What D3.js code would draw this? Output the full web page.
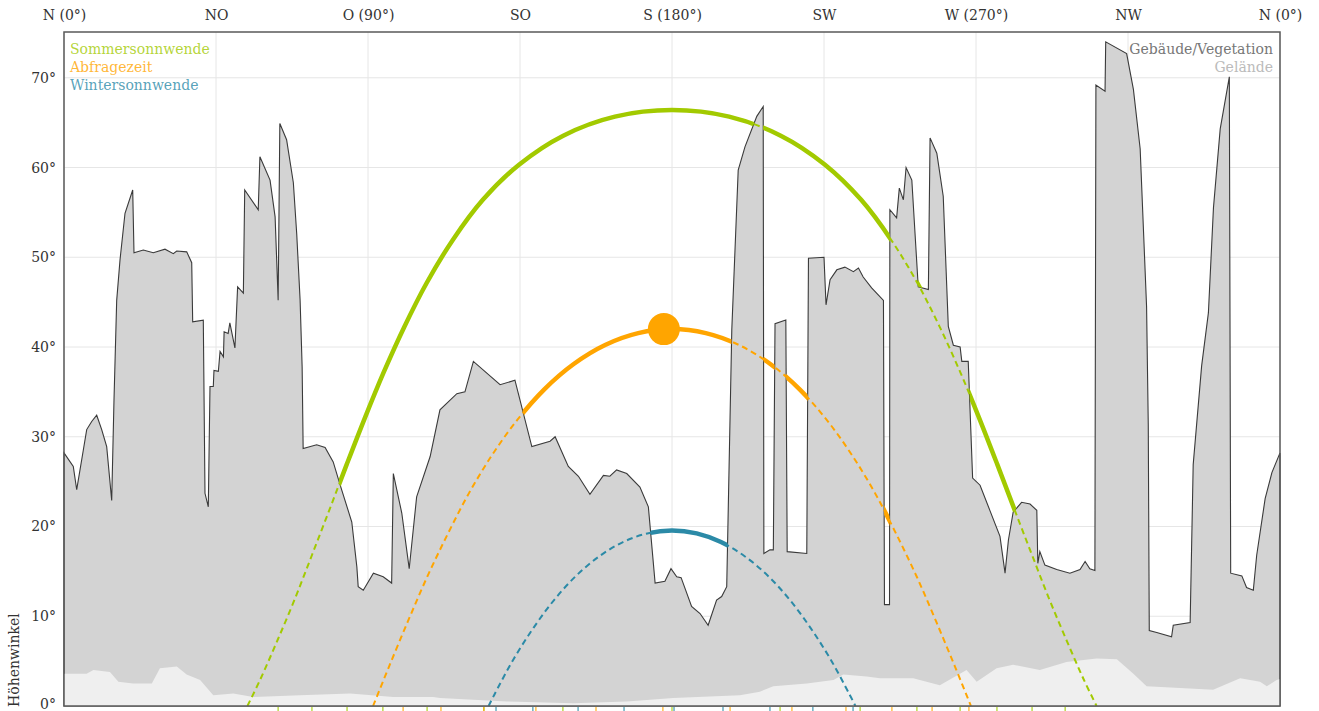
<!DOCTYPE html>
<html>
<head>
<meta charset="utf-8">
<script src="https://cdn.jsdelivr.net/npm/d3@7"></script>
<style>
  body { margin: 0; background: #fff; }
  svg text { font-family: "DejaVu Serif", serif; }
</style>
</head>
<body>
<div id="chart"></div>
<script>
// Richtungen (oben) und Höhenwinkel (links)
const dirTicks = [0, 45, 90, 135, 180, 225, 270, 315, 360];
const dirLabels = ["N (0°)", "NO", "O (90°)", "SO", "S (180°)", "SW", "W (270°)", "NW", "N (0°)"];
const elevTicks = [0, 10, 20, 30, 40, 50, 60, 70];

// Horizont Gebäude/Vegetation (Azimut, Höhe)
const horizonAz = [0, 2.75, 3.76, 5.71, 6.72, 8.2, 9.68, 11.16, 12.64, 14.12, 14.8, 15.6, 16.58, 18.06, 20.34, 20.72, 23.48, 26.44, 29.9, 32.36, 33.37, 36.33, 37.81, 38.1, 41.24, 41.74, 42.72, 43.22, 44.2, 44.4, 45.7, 46.2, 47.2, 47.4, 48.6, 49.1, 50.6, 51.4, 53.1, 53.5, 57.5, 58.0, 61.0, 62.5, 63.4, 63.9, 65.9, 67.9, 68.9, 69.9, 70.5, 70.8, 74.8, 77.3, 79.7, 81.7, 85.2, 86.7, 87.1, 88.6, 91.6, 94.5, 97.0, 97.5, 100.0, 102.2, 104.4, 108.4, 111.3, 116.3, 118.7, 121.2, 129.1, 133.5, 138.5, 143.9, 145.4, 149.3, 152.3, 155.7, 159.7, 161.6, 163.6, 166.6, 170.5, 173.0, 175.0, 177.9, 179.7, 181.4, 182.7, 185.8, 188.3, 190.7, 193.2, 194.7, 196.2, 197.7, 199.6, 201.6, 205.1, 207.0, 207.2, 209.0, 210.0, 210.5, 213.7, 214.1, 219.9, 220.4, 225.0, 225.6, 226.8, 228.8, 231.2, 233.7, 235.2, 236.6, 239.1, 242.6, 242.9, 244.4, 244.5, 246.5, 247.3, 248.5, 249.3, 251.0, 252.9, 255.9, 256.4, 258.4, 260.3, 261.8, 263.3, 265.3, 265.8, 267.7, 269.0, 271.2, 274.1, 277.1, 278.6, 279.6, 281.0, 283.5, 286.0, 288.0, 288.3, 288.9, 290.4, 293.9, 297.8, 300.8, 302.3, 303.7, 305.2, 305.5, 308.2, 308.4, 314.6, 316.6, 318.6, 320.5, 321.0, 321.3, 323.5, 327.9, 328.4, 333.4, 334.3, 336.8, 338.8, 340.3, 342.3, 345.0, 345.4, 348.7, 350.1, 352.1, 353.1, 355.6, 357.6, 360];
const horizonEl = [28.2, 26.7, 24.1, 28.5, 30.8, 31.7, 32.4, 30.8, 28.9, 22.9, 34.1, 45.2, 49.7, 54.9, 57.5, 50.5, 50.8, 50.5, 50.9, 50.4, 50.7, 50.6, 49.4, 42.8, 43.0, 23.7, 22.2, 35.6, 35.6, 37.4, 37.3, 39.5, 38.9, 41.7, 41.5, 42.7, 39.9, 46.7, 46.0, 57.5, 55.3, 61.2, 58.6, 54.5, 45.2, 64.9, 63.1, 58.3, 52.6, 45.2, 37.8, 28.7, 29.1, 28.8, 27.2, 24.7, 20.5, 15.5, 13.3, 12.9, 14.8, 14.4, 13.7, 25.9, 21.5, 15.3, 23.3, 27.8, 33.0, 34.8, 35.0, 38.4, 35.8, 36.3, 28.9, 29.5, 30.0, 26.7, 25.6, 23.6, 25.7, 25.6, 26.3, 25.9, 24.4, 22.2, 13.7, 13.9, 15.3, 14.4, 14.3, 11.1, 10.3, 9.0, 11.8, 12.2, 13.3, 41.9, 59.7, 62.3, 65.7, 66.8, 17.0, 17.4, 17.4, 42.6, 43.0, 17.2, 17.0, 49.9, 50.0, 44.7, 47.5, 48.6, 48.9, 48.4, 48.8, 47.8, 46.6, 45.2, 11.3, 11.3, 55.3, 54.4, 57.7, 56.4, 60.0, 58.6, 46.7, 46.4, 63.3, 61.6, 56.8, 42.3, 40.2, 40.0, 38.4, 38.4, 25.4, 24.6, 21.8, 18.9, 14.8, 18.5, 21.6, 22.7, 22.5, 21.8, 15.9, 17.2, 15.7, 15.2, 14.8, 15.2, 16.1, 15.3, 15.1, 69.2, 68.5, 74.0, 72.7, 68.7, 62.1, 44.5, 31.3, 8.4, 8.2, 7.7, 9.0, 9.3, 26.9, 37.9, 43.8, 55.5, 64.3, 70.1, 14.8, 14.5, 13.2, 12.9, 16.8, 23.1, 26.0, 28.2];

// Gelände
const terrainAz = [0, 6.7, 8.7, 13.6, 16.1, 20.5, 26.0, 28.4, 33.4, 36.3, 40.3, 44.2, 50.1, 56.0, 69.9, 84.7, 97.5, 109.3, 111.3, 131.1, 150.8, 166.6, 180.4, 200.1, 206.0, 210.0, 219.9, 227.8, 230.7, 237.6, 241.6, 251.4, 259.3, 267.2, 270.2, 276.1, 281.0, 288.9, 296.8, 305.7, 311.7, 316.6, 320.5, 330.4, 340.2, 348.2, 354.1, 356.1, 359.0, 360];
const terrainEl = [3.6, 3.6, 4.0, 3.8, 2.7, 2.5, 2.5, 4.2, 4.4, 3.5, 2.9, 1.2, 1.4, 1.0, 1.2, 1.4, 1.0, 1.0, 0.9, 0.5, 0.3, 0.5, 0.9, 1.2, 1.6, 2.2, 2.5, 2.9, 3.5, 3.3, 3.1, 3.1, 2.3, 4.0, 2.7, 4.2, 4.6, 4.0, 4.9, 5.3, 5.2, 3.6, 2.2, 2.0, 1.8, 3.1, 2.7, 2.2, 2.9, 3.0];

// Sonnenbahnen
const summerAz = [54.3, 58.1, 63.3, 68.5, 73.5, 78.6, 83.7, 89.0, 94.6, 100.7, 107.4, 115.1, 124.0, 134.8, 147.8, 163.1, 180, 196.9, 212.2, 225.2, 236.0, 244.9, 252.6, 259.3, 265.4, 271.0, 276.3, 281.4, 286.5, 291.5, 296.7, 301.9, 305.7];
const summerEl = [0, 2.95, 7.41, 12.08, 16.91, 21.88, 26.92, 32.03, 37.14, 42.21, 47.16, 51.93, 56.4, 60.34, 63.55, 65.67, 66.4, 65.67, 63.55, 60.34, 56.4, 51.93, 47.16, 42.21, 37.14, 32.03, 26.92, 21.88, 16.91, 12.08, 7.41, 2.95, 0];
const queryAz = [91.5, 96.2, 101.8, 107.5, 113.6, 119.9, 126.8, 134.2, 142.2, 150.9, 160.2, 170.0, 180, 190.0, 199.8, 209.1, 217.8, 225.8, 233.2, 240.1, 246.4, 252.5, 258.2, 263.8, 268.5];
const queryEl = [0, 4.37, 9.42, 14.37, 19.16, 23.72, 28.0, 31.88, 35.29, 38.11, 40.23, 41.55, 42.0, 41.55, 40.23, 38.11, 35.29, 31.88, 28.0, 23.72, 19.16, 14.37, 9.42, 4.37, 0];
const winterAz = [125.7, 127.4, 133.0, 139.0, 145.2, 151.7, 158.5, 165.5, 172.7, 180, 187.3, 194.5, 201.5, 208.3, 214.8, 221.0, 227.0, 232.6, 234.3];
const winterEl = [0, 1.26, 5.16, 8.71, 11.86, 14.54, 16.69, 18.27, 19.23, 19.56, 19.23, 18.27, 16.69, 14.54, 11.86, 8.71, 5.16, 1.26, 0];

// Sonnenstand zur Abfragezeit
const sunAz = 177.6, sunEl = 42.0;

// Stundenmarken an der Achse
const summerHours = [63.4, 73.4, 83.8, 94.4, 107.5, 124.3, 147.7, 180, 212, 235.7, 252.5, 265.3, 276.2, 286.6, 296.4];
const queryHours = [100.4, 111.6, 124.3, 139.7, 157.5, 177.3, 197.2, 215.5, 231.5, 245.1, 257.0, 267.9];
const winterHours = [127.9, 138.8, 152.2, 165.8, 180.6, 195.1, 209.0, 221.7, 233.6];

const green = "#a2ca00", orange = "#ffa500", blue = "#2b8aa7";

function renderChart() {
  const width = 1319, height = 711;

  const svg = d3.select("#chart")
    .append("svg")
    .attr("width", width)
    .attr("height", height);

  const x = d3.scaleLinear().domain([0, 360]).range([64, 1280]);
  const y = d3.scaleLinear().domain([0, 75.1]).range([706, 32]);

  // Gitter
  const grid = svg.append("g").attr("stroke", "#e6e6e6").attr("stroke-width", 1);
  grid.selectAll("line.v")
    .data(dirTicks)
    .join("line")
    .attr("x1", d => x(d)).attr("x2", d => x(d))
    .attr("y1", y.range()[1]).attr("y2", y.range()[0]);
  grid.selectAll("line.h")
    .data(elevTicks.slice(1))
    .join("line")
    .attr("x1", x.range()[0]).attr("x2", x.range()[1])
    .attr("y1", d => y(d)).attr("y2", d => y(d));

  // Horizont
  const horizon = d3.zip(horizonAz, horizonEl);
  svg.append("path")
    .datum(horizon)
    .attr("fill", "#d3d3d3")
    .attr("stroke", "#3a3a3a")
    .attr("stroke-width", 1.1)
    .attr("d", d3.area().x(d => x(d[0])).y0(y(0)).y1(d => y(d[1])));

  const terrain = d3.zip(terrainAz, terrainEl);
  svg.append("path")
    .datum(terrain)
    .attr("fill", "#efefef")
    .attr("d", d3.area().x(d => x(d[0])).y0(y(0)).y1(d => y(d[1])));

  // Sichtbarer Himmel als Clip
  svg.append("clipPath")
    .attr("id", "sky")
    .append("path")
    .datum(horizon)
    .attr("d", d3.area().x(d => x(d[0])).y0(y.range()[1]).y1(d => y(d[1])));

  const line = d3.line().x(d => x(d[0])).y(d => y(d[1])).curve(d3.curveCatmullRom);
  const paths = [
    { pts: d3.zip(summerAz, summerEl), color: green },
    { pts: d3.zip(queryAz, queryEl), color: orange },
    { pts: d3.zip(winterAz, winterEl), color: blue }
  ];

  // gestrichelt (verdeckt)
  svg.append("g")
    .selectAll("path")
    .data(paths)
    .join("path")
    .attr("fill", "none")
    .attr("stroke", d => d.color)
    .attr("stroke-width", 2)
    .attr("stroke-dasharray", "6,4")
    .attr("d", d => line(d.pts));

  // durchgezogen (sichtbar)
  svg.append("g")
    .attr("clip-path", "url(#sky)")
    .selectAll("path")
    .data(paths)
    .join("path")
    .attr("fill", "none")
    .attr("stroke", d => d.color)
    .attr("stroke-width", 4.5)
    .attr("d", d => line(d.pts));

  svg.append("circle")
    .attr("cx", x(sunAz))
    .attr("cy", y(sunEl))
    .attr("r", 16)
    .attr("fill", orange);

  // Stundenmarken
  const marks = [
    ...summerHours.map(a => ({ a, c: green })),
    ...queryHours.map(a => ({ a, c: orange })),
    ...winterHours.map(a => ({ a, c: blue }))
  ];
  svg.append("g")
    .selectAll("line")
    .data(marks)
    .join("line")
    .attr("x1", d => x(d.a)).attr("x2", d => x(d.a))
    .attr("y1", y(0) + 1).attr("y2", y(0) + 7)
    .attr("stroke", d => d.c)
    .attr("stroke-opacity", 0.7)
    .attr("stroke-width", 1.5);

  // Rahmen
  svg.append("rect")
    .attr("x", x.range()[0]).attr("y", y.range()[1])
    .attr("width", x.range()[1] - x.range()[0])
    .attr("height", y.range()[0] - y.range()[1])
    .attr("fill", "none")
    .attr("stroke", "#5a5a5a")
    .attr("stroke-width", 1.5);

  // Achsen
  const top = svg.append("g")
    .attr("transform", `translate(0,${y.range()[1]})`)
    .call(d3.axisTop(x).tickValues(dirTicks).tickFormat((d, i) => dirLabels[i]).tickSize(0).tickPadding(12));
  top.select(".domain").remove();
  top.selectAll("text").attr("font-size", 14).attr("fill", "#333").attr("font-family", "DejaVu Serif");

  const left = svg.append("g")
    .attr("transform", `translate(${x.range()[0]},0)`)
    .call(d3.axisLeft(y).tickValues(elevTicks).tickFormat(d => d + "°").tickSize(0).tickPadding(8));
  left.select(".domain").remove();
  left.selectAll("text").attr("font-size", 14).attr("fill", "#333").attr("font-family", "DejaVu Serif");
  // 0° etwas anheben, damit es nicht abgeschnitten wird
  left.selectAll("text").filter(d => d === 0).attr("dy", "0.15em");

  svg.append("text")
    .attr("transform", `translate(19,${y(0) + 1}) rotate(-90)`)
    .attr("font-size", 14)
    .attr("fill", "#333")
    .text("Höhenwinkel");

  // Legende
  const legL = [
    { t: "Sommersonnwende", c: green },
    { t: "Abfragezeit", c: orange },
    { t: "Wintersonnwende", c: blue }
  ];
  svg.append("g")
    .selectAll("text")
    .data(legL)
    .join("text")
    .attr("x", 70)
    .attr("y", (d, i) => 54 + i * 18)
    .attr("font-size", 14)
    .attr("fill", d => d.c)
    .attr("fill-opacity", 0.8)
    .text(d => d.t);

  const legR = [
    { t: "Gebäude/Vegetation", c: "#777" },
    { t: "Gelände", c: "#bbb" }
  ];
  svg.append("g")
    .selectAll("text")
    .data(legR)
    .join("text")
    .attr("x", 1273)
    .attr("y", (d, i) => 54 + i * 18)
    .attr("text-anchor", "end")
    .attr("font-size", 14)
    .attr("fill", d => d.c)
    .text(d => d.t);
}

renderChart();
</script>
</body>
</html>
